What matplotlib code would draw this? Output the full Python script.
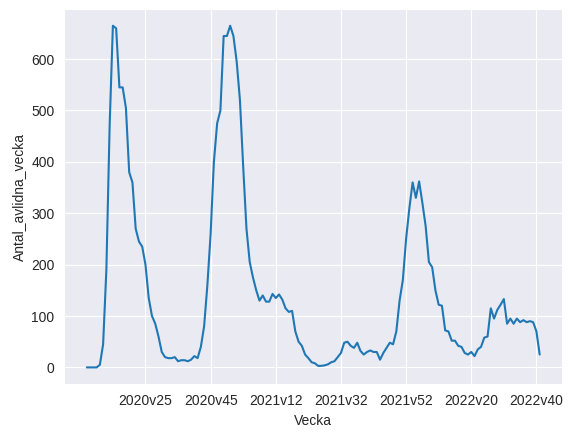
import matplotlib
matplotlib.use("Agg")
import matplotlib.pyplot as plt
import seaborn as sns

# weekly deaths, 2020v7 .. 2022v41
deaths_2020 = [0, 0, 0, 0, 5, 45, 190, 470, 665, 660, 545, 545, 505, 380, 360, 270, 245,
               235, 200, 135, 100, 85, 60, 30, 20, 18, 18, 20, 12, 14, 14, 12, 15, 22, 18,
               40, 80, 160, 260, 400, 475, 500, 645, 645, 665, 645, 595]
deaths_2021 = [520, 390, 270, 205, 175, 150, 130, 140, 128, 128, 143, 135, 142, 132, 115,
               108, 110, 70, 50, 42, 25, 18, 10, 8, 3, 3, 4, 6, 10, 12, 20, 28, 48, 50, 42,
               38, 48, 32, 25, 30, 33, 30, 30, 15, 28, 38, 48, 45, 70, 130, 170, 250]
deaths_2022 = [310, 360, 330, 362, 320, 275, 205, 195, 150, 122, 120, 72, 70, 52, 52, 42,
               40, 28, 25, 30, 22, 35, 40, 58, 60, 115, 95, 112, 122, 133, 85, 95, 85, 95,
               88, 92, 88, 90, 88, 70, 25]

weeks = ([f"2020v{w}" for w in range(7, 54)]
         + [f"2021v{w}" for w in range(1, 53)]
         + [f"2022v{w}" for w in range(1, 42)])
values = deaths_2020 + deaths_2021 + deaths_2022
tick_labels = ["2020v25", "2020v45", "2021v12", "2021v32", "2021v52", "2022v20", "2022v40"]

sns.set_style("darkgrid")
plt.rcParams["font.family"] = ["Liberation Sans", "DejaVu Sans"]

fig, ax = plt.subplots(figsize=(5.68, 4.32), dpi=100)
idx = list(range(len(weeks)))
ax.plot(idx, values, color="#1f77b4", linewidth=1.5)
ax.set_xticks([weeks.index(t) for t in tick_labels])
ax.set_xticklabels(tick_labels)
ax.set_xlabel("Vecka")
ax.set_ylabel("Antal_avlidna_vecka")
fig.subplots_adjust(left=0.113, right=0.99, bottom=0.11, top=0.98)
fig.savefig("out.png", dpi=100)
